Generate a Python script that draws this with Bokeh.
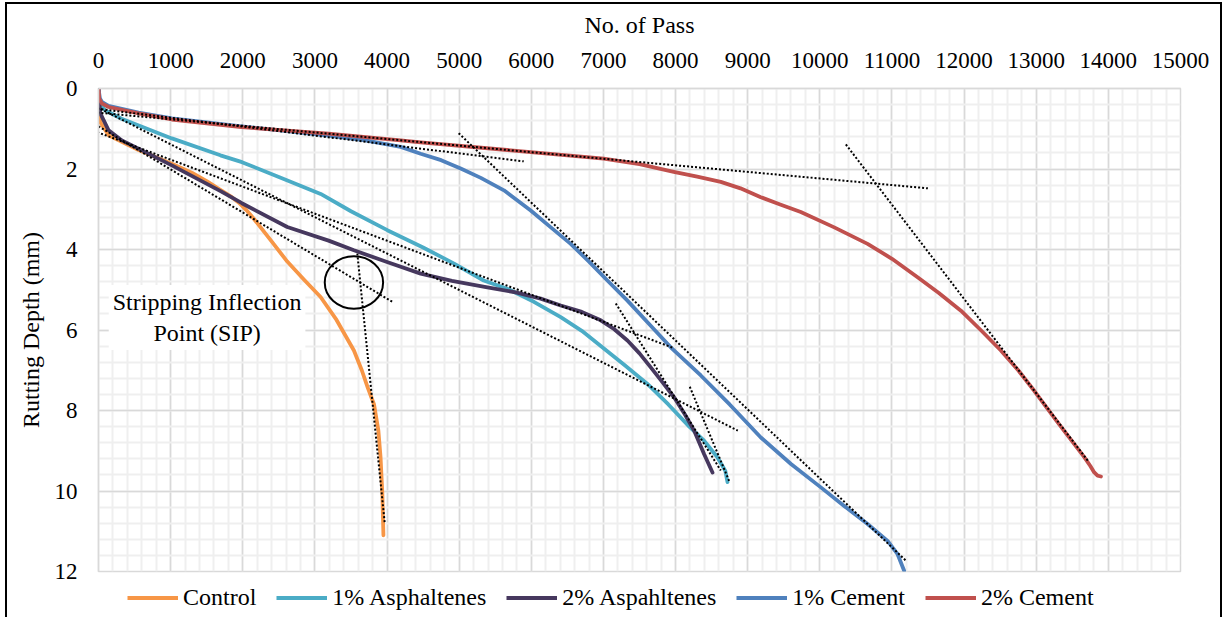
from bokeh.plotting import figure
from bokeh.layouts import column
from bokeh.models import Range1d, SingleIntervalTicker, Legend, LegendItem, Label
from bokeh.embed import file_html
from bokeh.resources import INLINE

# Wheel-tracking test: rut depth (mm) against number of passes for each mix
control_pass = [0, 10, 30, 140, 555, 1017, 1300, 1500, 1700, 1850, 1960, 2050, 2150, 2400, 2617, 2850, 3079, 3300, 3541, 3650, 3730, 3820, 3880, 3910, 3935, 3950]
control_depth = [0, 0.45, 0.85, 1.16, 1.53, 1.87, 2.10, 2.30, 2.53, 2.70, 2.86, 3.02, 3.23, 3.80, 4.30, 4.75, 5.18, 5.75, 6.51, 7.00, 7.42, 7.85, 8.50, 9.16, 10.07, 11.10]

asph1_pass = [0, 15, 90, 320, 1017, 1690, 1990, 2500, 3080, 3500, 4004, 4500, 4930, 5340, 5700, 6036, 6408, 6700, 6963, 7300, 7610, 7900, 8190, 8395, 8580, 8690, 8720]
asph1_depth = [0, 0.35, 0.54, 0.75, 1.24, 1.66, 1.83, 2.20, 2.62, 3.05, 3.52, 3.95, 4.35, 4.77, 5.00, 5.30, 5.68, 6.02, 6.40, 6.88, 7.34, 7.85, 8.40, 8.75, 9.16, 9.50, 9.78]

asph2_pass = [0, 10, 25, 140, 324, 1017, 1692, 1988, 2617, 3190, 3541, 4000, 4466, 4900, 5391, 5800, 6130, 6408, 6700, 6963, 7150, 7333, 7500, 7656, 7820, 7979, 8130, 8257, 8326, 8395, 8512]
asph2_depth = [0, 0.30, 0.62, 1.04, 1.29, 1.91, 2.55, 2.85, 3.44, 3.78, 4.02, 4.31, 4.60, 4.78, 4.94, 5.07, 5.22, 5.39, 5.55, 5.76, 5.98, 6.26, 6.58, 6.93, 7.30, 7.67, 8.10, 8.50, 8.79, 9.08, 9.54]

cem1_pass = [0, 20, 46, 139, 555, 1017, 1983, 3190, 3700, 4189, 4466, 4750, 5021, 5300, 5621, 5992, 6250, 6546, 6800, 7055, 7333, 7633, 7933, 8350, 8750, 9182, 9600, 10014, 10337, 10662, 10939, 11078, 11169]
cem1_depth = [0, 0.25, 0.33, 0.43, 0.60, 0.74, 0.94, 1.17, 1.29, 1.45, 1.62, 1.78, 1.99, 2.22, 2.53, 3.03, 3.42, 3.86, 4.30, 4.77, 5.27, 5.85, 6.43, 7.13, 7.85, 8.67, 9.33, 9.91, 10.37, 10.82, 11.24, 11.57, 11.98]

cem2_pass = [0, 10, 46, 139, 555, 1017, 1983, 3190, 4189, 4466, 5992, 6500, 7004, 7500, 7975, 8300, 8627, 8900, 9182, 9450, 9736, 10200, 10662, 11000, 11355, 11650, 11956, 12230, 12510, 12750, 12972, 13300, 13666, 13750, 13804, 13850, 13897]
cem2_depth = [0, 0.25, 0.37, 0.46, 0.62, 0.77, 0.96, 1.12, 1.29, 1.34, 1.58, 1.66, 1.74, 1.88, 2.07, 2.19, 2.32, 2.48, 2.70, 2.88, 3.07, 3.45, 3.86, 4.23, 4.69, 5.08, 5.52, 6.00, 6.51, 7.00, 7.51, 8.30, 9.16, 9.38, 9.54, 9.62, 9.64]

series_names = ["Control", "1% Asphaltenes", "2% Aspahltenes", "1% Cement", "2% Cement"]

# Tangent lines (creep and stripping slopes) whose crossings mark the SIP
tangent_x0 = [-69, 10361, -69, 4993, -69, 8197, -69, 7171, 0, 3588]
tangent_y0 = [0.59, 1.39, 0.49, 1.11, 0.42, 7.41, 1.05, 5.34, 0.94, 4.10]
tangent_x1 = [11498, 13717, 5895, 11193, 8863, 8752, 7961, 8627, 4092, 3967]
tangent_y1 = [2.48, 9.25, 1.81, 11.73, 8.50, 9.79, 6.44, 9.49, 5.32, 10.78]

# Marked stripping inflection point of the control mix
sip_pass = [3541]
sip_depth = [4.82]

FONT = "Liberation Serif, serif"
colors = ["#F79646", "#4BACC6", "#46385E", "#4F81BD", "#C0504D"]
LINE_W = 3.8

p = figure(width=1213, height=580,
           x_range=Range1d(0, 15000), y_range=Range1d(12, 0),
           x_axis_location="above", output_backend="svg", toolbar_location=None,
           min_border_left=91, min_border_right=40, min_border_top=84, min_border_bottom=13)
p.background_fill_color = "white"
p.border_fill_color = "white"
p.outline_line_color = "#d9d9d9"
p.outline_line_width = 1.5

xt = SingleIntervalTicker(interval=1000, num_minor_ticks=5)
yt = SingleIntervalTicker(interval=2, num_minor_ticks=5)
p.xaxis.ticker = xt
p.yaxis.ticker = yt
p.xgrid.ticker = xt
p.ygrid.ticker = yt

for g in (p.xgrid, p.ygrid):
    g.grid_line_color = "#d9d9d9"
    g.grid_line_width = 1.5
    g.minor_grid_line_color = "#efefef"
    g.minor_grid_line_width = 2

for ax in (p.xaxis, p.yaxis):
    ax.axis_line_color = "#d9d9d9"
    ax.axis_line_width = 1.5
    ax.major_tick_line_color = None
    ax.minor_tick_line_color = None
    ax.major_label_text_font = FONT
    ax.major_label_text_font_size = "23px"
    ax.major_label_text_color = "black"
    ax.axis_label_text_font = FONT
    ax.axis_label_text_font_size = "24px"
    ax.axis_label_text_font_style = "normal"
    ax.axis_label_text_color = "black"
    ax.major_label_standoff = 15

p.xaxis.axis_label = "No. of Pass"
p.yaxis.axis_label = "Rutting Depth (mm)"
p.xaxis.axis_label_standoff = 12
p.yaxis.axis_label_standoff = 8

series = [(control_pass, control_depth), (asph1_pass, asph1_depth), (asph2_pass, asph2_depth),
          (cem1_pass, cem1_depth), (cem2_pass, cem2_depth)]
for (xs, ys), c in zip(series, colors):
    p.line(xs, ys, line_color=c, line_width=LINE_W, line_cap="round", line_join="round")

p.segment(x0=tangent_x0, y0=tangent_y0, x1=tangent_x1, y1=tangent_y1,
          line_color="black", line_width=2, line_dash="2 2")

p.ellipse(x=sip_pass, y=sip_depth, width=809, height=1.30,
          fill_color=None, line_color="black", line_width=2)

sip_label = Label(x=1505, y=5.69, text="Stripping Inflection\nPoint (SIP)",
                  text_align="center", text_baseline="middle",
                  text_font=FONT, text_font_size="24px", text_color="black",
                  background_fill_color="white", padding=4)
p.add_layout(sip_label)

# Legend strip below the chart. Its ranges sit beside the data, so the series
# drawn here stay out of view and only their legend samples show.
key = figure(width=1213, height=33, x_range=Range1d(-20000, -19000), y_range=Range1d(-20, -19),
             output_backend="svg", toolbar_location=None, min_border=0,
             x_axis_location=None, y_axis_location=None)
key.grid.visible = False
key.outline_line_color = None
key.background_fill_color = "white"
key.border_fill_color = "white"
key_items = []
for name, (xs, ys), c in zip(series_names, series, colors):
    r = key.line(xs, ys, line_color=c, line_width=LINE_W)
    key_items.append(LegendItem(label=name, renderers=[r]))

legend = Legend(items=key_items, orientation="horizontal", location=(29, 6),
                glyph_width=51, glyph_height=27, label_height=27, label_standoff=5, spacing=20,
                padding=0, margin=0, border_line_color=None, background_fill_alpha=0,
                label_text_font=FONT, label_text_font_size="24px", label_text_color="black")
key.add_layout(legend)

layout = column(p, key, spacing=0,
                styles={"border-left": "2px solid black", "border-top": "2px solid black",
                        "border-right": "2px solid black",
                        "margin-left": "5px", "margin-top": "2px"})

open("out.html", "w").write(file_html(layout, INLINE))
